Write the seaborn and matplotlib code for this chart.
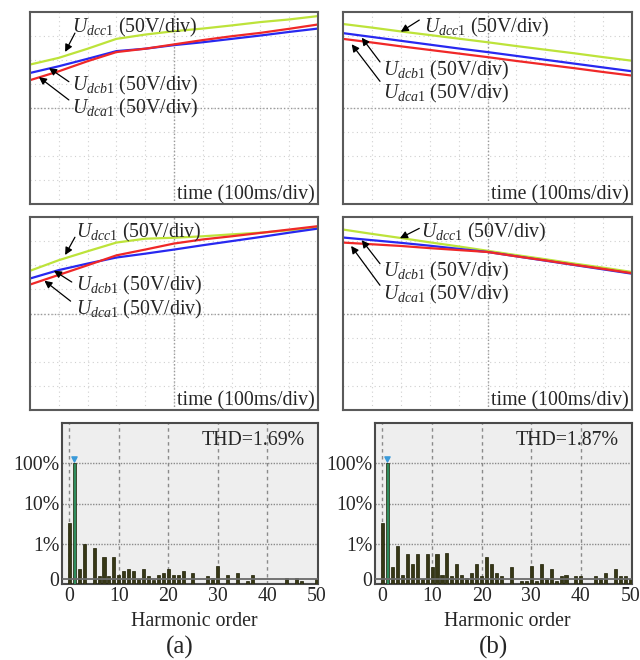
import numpy as np
import pandas as pd
import matplotlib
matplotlib.use("Agg")
import matplotlib.pyplot as plt
import seaborn as sns

# ---------------- data ----------------
# oscilloscope traces, values in screen divisions (0..8), time in divisions (0..10)
t_div = [0, 1, 2, 3, 4, 5, 6, 7, 8, 9, 10]

a1_dcc = [5.81, 6.09, 6.47, 6.88, 7.06, 7.20, 7.31, 7.44, 7.58, 7.69, 7.83]
a1_dcb = [5.46, 5.74, 6.05, 6.37, 6.47, 6.62, 6.74, 6.88, 7.02, 7.17, 7.31]
a1_dca = [5.16, 5.53, 5.95, 6.33, 6.47, 6.65, 6.83, 6.99, 7.13, 7.30, 7.48]

b1_dcc = [7.50, 7.35, 7.19, 7.04, 6.89, 6.74, 6.58, 6.43, 6.28, 6.12, 5.97]
b1_dcb = [7.12, 6.96, 6.80, 6.64, 6.48, 6.33, 6.17, 6.01, 5.85, 5.69, 5.53]
b1_dca = [6.88, 6.73, 6.57, 6.42, 6.27, 6.12, 5.96, 5.81, 5.66, 5.50, 5.35]

a2_dcc = [5.77, 6.21, 6.58, 6.94, 7.10, 7.14, 7.20, 7.28, 7.35, 7.45, 7.56]
a2_dcb = [5.45, 5.80, 6.07, 6.32, 6.48, 6.65, 6.83, 7.00, 7.17, 7.35, 7.52]
a2_dca = [5.20, 5.60, 6.00, 6.41, 6.65, 6.90, 7.07, 7.20, 7.34, 7.48, 7.62]

b2_dcc = [7.48, 7.30, 7.13, 6.95, 6.78, 6.60, 6.42, 6.25, 6.07, 5.90, 5.72]
b2_dcb = [7.15, 7.04, 6.93, 6.81, 6.68, 6.55, 6.37, 6.19, 6.01, 5.83, 5.65]
b2_dca = [6.94, 6.87, 6.80, 6.71, 6.63, 6.55, 6.37, 6.20, 6.02, 5.85, 5.67]

# harmonic spectra (% of fundamental), orders 0..50
harm_order = list(range(51))
harm_a = [3.3, 100, 0.23, 1.0, 0, 0.78, 0.16, 0.46, 0.16, 0.46,
          0.17, 0.21, 0.23, 0.21, 0.13, 0.23, 0.16, 0.126, 0.17, 0.19,
          0.23, 0.17, 0.17, 0.21, 0, 0.19, 0, 0, 0.16, 0.14,
          0.28, 0, 0.17, 0, 0.19, 0, 0.12, 0.17, 0, 0,
          0, 0, 0, 0, 0.14, 0, 0.14, 0.12, 0, 0,
          0.13]
harm_b = [3.3, 100, 0.26, 0.86, 0.17, 0.55, 0.31, 0.55, 0.13, 0.55,
          0.26, 0.55, 0.17, 0.60, 0.16, 0.31, 0.17, 0.14, 0.19, 0.31,
          0.16, 0.46, 0.31, 0.19, 0.16, 0, 0.26, 0, 0.12, 0.12,
          0.28, 0.12, 0.31, 0.14, 0.23, 0.12, 0.16, 0.17, 0, 0.16,
          0.16, 0, 0, 0.16, 0.14, 0.19, 0, 0.23, 0.16, 0.16,
          0.13]
thd_a = "THD=1.69%"
thd_b = "THD=1.87%"

ytick_vals = [0.13, 1, 10, 100]
ytick_labels = ["0", "1%", "10%", "100%"]
xtick_vals = [0, 10, 20, 30, 40, 50]

lbl_c = r"$U_{dcc\mathrm{1}}$ (50V/div)"
lbl_b = r"$U_{dcb\mathrm{1}}$ (50V/div)"
lbl_a = r"$U_{dca\mathrm{1}}$ (50V/div)"
time_lbl = "time (100ms/div)"

# ---------------- style ----------------
sns.set_theme(style="white")
plt.rcParams["font.family"] = ["Liberation Serif", "DejaVu Serif"]
plt.rcParams["mathtext.fontset"] = "custom"
plt.rcParams["mathtext.rm"] = "Liberation Serif"
plt.rcParams["mathtext.it"] = "Liberation Serif:italic"
FS = 14.3

C_GREEN = "#bde33a"
C_BLUE = "#2828f0"
C_RED = "#f02828"

fig = plt.figure(figsize=(6.4, 6.6), dpi=100)


def px_axes(x0, y0, x1, y1):
    return fig.add_axes([x0 / 640, 1 - y1 / 660, (x1 - x0) / 640, (y1 - y0) / 660])


def scope(ax, dcc, dcb, dca, lab_pos):
    df = pd.DataFrame({"t": t_div * 3,
                       "v": dcc + dcb + dca,
                       "s": ["c"] * 11 + ["b"] * 11 + ["a"] * 11})
    ax.set_xlim(0, 10)
    ax.set_ylim(0, 8)
    for k in range(1, 10):
        ax.axvline(k, color="#d0d0d0", lw=0.8, ls=(0, (1, 3)), zorder=0)
    for k in range(1, 8):
        ax.axhline(k, color="#d0d0d0", lw=0.8, ls=(0, (1, 3)), zorder=0)
    ax.axvline(5, color="#9a9a9a", lw=1.0, ls=(0, (1, 1.5)), zorder=0)
    ax.axhline(4, color="#9a9a9a", lw=1.0, ls=(0, (1, 1.5)), zorder=0)
    sns.lineplot(data=df, x="t", y="v", hue="s", hue_order=["c", "b", "a"],
                 palette={"c": C_GREEN, "b": C_BLUE, "a": C_RED},
                 lw=1.6, legend=False, ax=ax)
    ax.set_xticks([])
    ax.set_yticks([])
    ax.set_xlabel("")
    ax.set_ylabel("")
    for s in ax.spines.values():
        s.set_color("#5a5a5a")
        s.set_linewidth(1.5)
    for txt, (tx, ty, ax_, ay_, hx, hy) in zip([lbl_c, lbl_b, lbl_a], lab_pos):
        ax.text(tx, ty - 0.012, txt, transform=ax.transAxes, fontsize=FS,
                ha="left", va="center")
        ax.annotate("", xy=(hx, hy), xytext=(ax_, ay_),
                    xycoords="axes fraction", textcoords="axes fraction",
                    arrowprops=dict(arrowstyle="-|>", color="black", lw=0.9,
                                    shrinkA=0, shrinkB=0, mutation_scale=11))
    ax.text(0.988, 0.024, time_lbl, transform=ax.transAxes, fontsize=FS,
            ha="right", va="baseline")


def spectrum(ax, vals, thd):
    df = pd.DataFrame({"h": harm_order, "v": vals,
                       "k": ["f" if h == 1 else "o" for h in harm_order]})
    ax.set_facecolor("#eeeeee")
    ax.set_yscale("log")
    sns.barplot(data=df, x="h", y="v", hue="k",
                palette={"f": "#1f9a5c", "o": "#3c3c10"},
                native_scale=True, dodge=False, width=0.62,
                edgecolor="#1e1e04", linewidth=0.5, legend=False, ax=ax,
                zorder=3)
    ax.set_xlim(-1.5, 50.3)
    ax.set_ylim(0.1, 1000)
    for g in [0, 10, 20, 30, 40]:
        ax.axvline(g, color="#8a8a8a", lw=1.0, ls=(0, (2.5, 2.5)), zorder=1)
    for g in [1, 10, 100]:
        ax.axhline(g, color="#8a8a8a", lw=1.0, ls=(0, (1, 1)), zorder=1)
    ax.axhline(ytick_vals[0], color="#6a6a6a", lw=1.3, zorder=4)
    fund = df[df.h == 1]
    ax.scatter(fund.h, fund.v * 1.3, marker="v", s=14, color="#3a9ad9",
               zorder=5)
    ax.set_yticks(ytick_vals)
    ax.set_yticklabels(ytick_labels)
    ax.set_xticks(xtick_vals)
    ax.set_xticklabels([str(v) for v in xtick_vals])
    ax.minorticks_off()
    ax.tick_params(length=0, pad=2, labelsize=FS)
    ax.set_xlabel("Harmonic order", fontsize=FS)
    ax.xaxis.set_label_coords(0.516, -0.172)
    ax.xaxis.label.set_va("top")
    ax.set_ylabel("")
    for s in ax.spines.values():
        s.set_color("#4a4a4a")
        s.set_linewidth(1.5)
    ax.text(0.949, 0.894, thd, transform=ax.transAxes, fontsize=FS,
            ha="right", va="center")


ax_tl = px_axes(30, 12, 318, 204)
ax_tr = px_axes(343, 12, 632, 204)
ax_ml = px_axes(30, 217, 318, 410)
ax_mr = px_axes(343, 217, 632, 410)
ax_hl = px_axes(62, 423, 318, 584)
ax_hr = px_axes(375, 423, 632, 584)

# label positions: text x, text y, arrow tail x, y, arrow tip x, y (axes fraction)
scope(ax_tl, a1_dcc, a1_dcb, a1_dca,
      [(0.145, 0.932, 0.156, 0.89, 0.122, 0.792),
       (0.145, 0.627, 0.135, 0.637, 0.066, 0.708),
       (0.145, 0.508, 0.135, 0.542, 0.031, 0.661)])
scope(ax_tr, b1_dcc, b1_dcb, b1_dca,
      [(0.281, 0.932, 0.264, 0.958, 0.20, 0.897),
       (0.139, 0.707, 0.128, 0.74, 0.065, 0.866),
       (0.139, 0.590, 0.128, 0.639, 0.030, 0.832)])
scope(ax_ml, a2_dcc, a2_dcb, a2_dca,
      [(0.16, 0.933, 0.156, 0.895, 0.122, 0.803),
       (0.16, 0.655, 0.145, 0.663, 0.083, 0.722),
       (0.16, 0.531, 0.141, 0.564, 0.050, 0.670)])
scope(ax_mr, b2_dcc, b2_dcb, b2_dca,
      [(0.27, 0.933, 0.264, 0.941, 0.197, 0.89),
       (0.139, 0.732, 0.128, 0.758, 0.065, 0.88),
       (0.139, 0.612, 0.128, 0.646, 0.028, 0.85)])

spectrum(ax_hl, harm_a, thd_a)
spectrum(ax_hr, harm_b, thd_b)

fig.text(180 / 640, 1 - 647 / 660, "(a)", fontsize=18, ha="center", va="center")
fig.text(493 / 640, 1 - 647 / 660, "(b)", fontsize=18, ha="center", va="center")

fig.savefig("out.png", dpi=100)
